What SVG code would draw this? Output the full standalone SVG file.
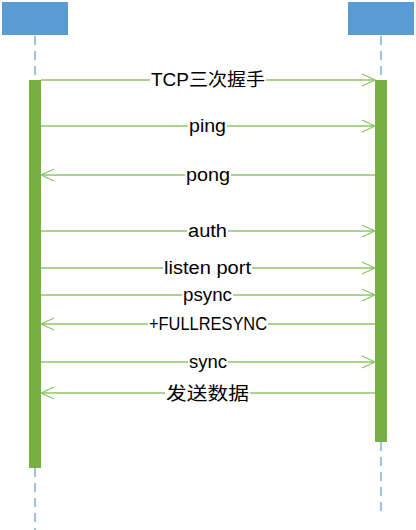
<svg xmlns="http://www.w3.org/2000/svg" width="416" height="530" viewBox="0 0 416 530">
<defs>
<style>
.box{fill:#5b9bd5}
.life{stroke:#9dc3e6;stroke-width:2;stroke-dasharray:9,6;fill:none}
.act{fill:#76b041}
.msg{stroke:#8cc46a;stroke-width:1.3;fill:none}
.lbl{font-family:"Liberation Sans","Noto Sans CJK SC",sans-serif;font-size:18px;fill:#000;text-anchor:middle}
.bg{fill:#fff}
</style>
<marker id="arr" markerWidth="16" markerHeight="14" refX="14" refY="7" orient="auto" markerUnits="userSpaceOnUse">
<path d="M1,1 L14,7 L1,13" fill="none" stroke="#8cc46a" stroke-width="1.3"/>
</marker>
</defs>
<g id="left-node">
<rect class="box" x="2" y="2" width="66" height="33"/>
<line class="life" x1="35" y1="36" x2="35" y2="80"/>
<line class="life" x1="35" y1="468" x2="35" y2="530"/>
<rect class="act" x="29" y="80" width="12" height="388"/>
</g>
<g id="right-node">
<rect class="box" x="348" y="2" width="66" height="33"/>
<line class="life" x1="381" y1="36" x2="381" y2="80"/>
<line class="life" x1="381" y1="442" x2="381" y2="514"/>
<rect class="act" x="375" y="80" width="12" height="362"/>
</g>
<g id="connectors">
<line class="msg" x1="41" y1="80" x2="375" y2="80" marker-end="url(#arr)"/>
<line class="msg" x1="41" y1="126" x2="375" y2="126" marker-end="url(#arr)"/>
<line class="msg" x1="375" y1="175" x2="41" y2="175" marker-end="url(#arr)"/>
<line class="msg" x1="41" y1="231" x2="375" y2="231" marker-end="url(#arr)"/>
<line class="msg" x1="41" y1="268" x2="375" y2="268" marker-end="url(#arr)"/>
<line class="msg" x1="41" y1="295" x2="375" y2="295" marker-end="url(#arr)"/>
<line class="msg" x1="375" y1="324" x2="41" y2="324" marker-end="url(#arr)"/>
<line class="msg" x1="41" y1="362" x2="375" y2="362" marker-end="url(#arr)"/>
<line class="msg" x1="375" y1="393" x2="41" y2="393" marker-end="url(#arr)"/>
</g>
<g id="labels">
<rect class="bg" x="150" y="70" width="116" height="20"/>
<text class="lbl" x="208" y="86" textLength="114" lengthAdjust="spacingAndGlyphs">TCP三次握手</text>
<rect class="bg" x="188" y="116" width="39" height="20"/>
<text class="lbl" x="207.5" y="132" textLength="37" lengthAdjust="spacingAndGlyphs">ping</text>
<rect class="bg" x="185" y="165" width="46" height="20"/>
<text class="lbl" x="208" y="181" textLength="44" lengthAdjust="spacingAndGlyphs">pong</text>
<rect class="bg" x="187" y="221" width="41" height="20"/>
<text class="lbl" x="207.5" y="237" textLength="39" lengthAdjust="spacingAndGlyphs">auth</text>
<rect class="bg" x="163" y="258" width="89" height="20"/>
<text class="lbl" x="207.5" y="274" textLength="87" lengthAdjust="spacingAndGlyphs">listen port</text>
<rect class="bg" x="182" y="285" width="51" height="20"/>
<text class="lbl" x="207.5" y="301" textLength="49" lengthAdjust="spacingAndGlyphs">psync</text>
<rect class="bg" x="148" y="314" width="120" height="20"/>
<text class="lbl" x="208" y="330" textLength="118" lengthAdjust="spacingAndGlyphs">+FULLRESYNC</text>
<rect class="bg" x="188" y="352" width="40" height="20"/>
<text class="lbl" x="208" y="368" textLength="38" lengthAdjust="spacingAndGlyphs">sync</text>
<rect class="bg" x="165" y="382" width="85" height="22"/>
<text class="lbl" x="207.5" y="400" textLength="83" lengthAdjust="spacingAndGlyphs">发送数据</text>
</g>
</svg>
